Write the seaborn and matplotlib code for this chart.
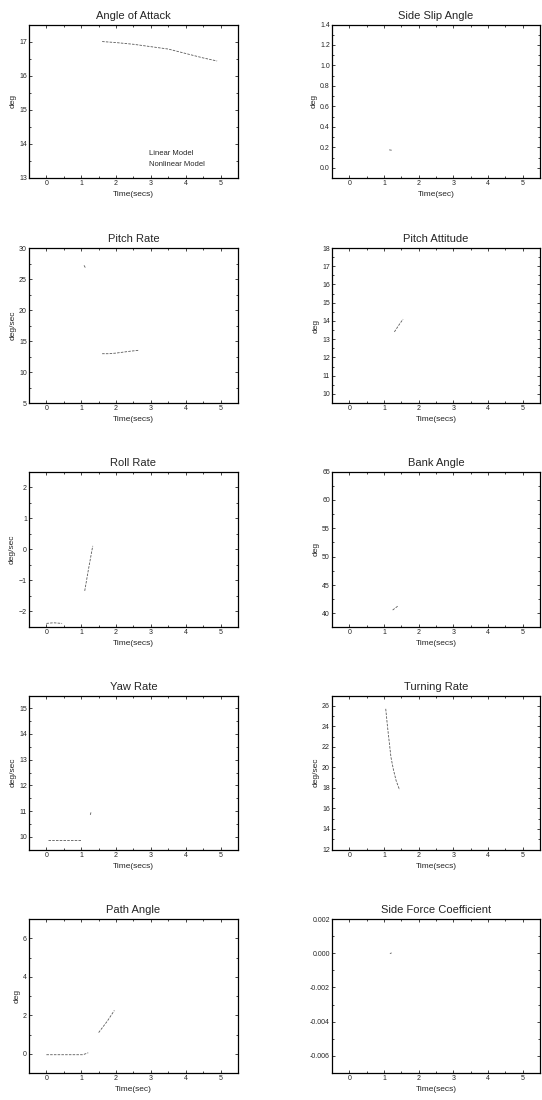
import numpy as np
import matplotlib
matplotlib.use("Agg")
import matplotlib.pyplot as plt
from matplotlib.lines import Line2D
from matplotlib.ticker import AutoMinorLocator, FormatStrFormatter
import seaborn as sns

# values (faint trace fragments)
aoa_t = [1.6, 2.0, 2.5, 3.0, 3.5, 4.0, 4.5, 4.9]
aoa_v = [17.0, 16.97, 16.92, 16.85, 16.78, 16.65, 16.52, 16.43]

slip_t = [1.15, 1.25]
slip_v = [0.175, 0.17]

q_t1 = [1.08, 1.12]
q_v1 = [27.2, 26.8]
q_t2 = [1.6, 1.8, 2.0, 2.2, 2.4, 2.65]
q_v2 = [12.95, 12.95, 13.05, 13.2, 13.35, 13.5]

theta_t = [1.3, 1.42, 1.55]
theta_v = [13.4, 13.75, 14.1]

p_t1 = [0.0, 0.2, 0.45]
p_v1 = [-2.4, -2.38, -2.4]
p_t2 = [1.1, 1.2, 1.33]
p_v2 = [-1.35, -0.7, 0.1]

phi_t = [1.25, 1.4]
phi_v = [40.6, 41.3]

r_t1 = [0.05, 0.5, 1.0]
r_v1 = [9.87, 9.87, 9.87]
r_t2 = [1.26, 1.28]
r_v2 = [10.85, 10.95]

turn_t = [1.05, 1.1, 1.15, 1.2, 1.27, 1.35, 1.45]
turn_v = [25.7, 24.0, 22.5, 21.0, 19.8, 18.7, 17.8]

gam_t1 = [0.0, 0.5, 1.05, 1.2]
gam_v1 = [-0.05, -0.05, -0.05, 0.05]
gam_t2 = [1.5, 1.75, 1.95]
gam_v2 = [1.1, 1.7, 2.25]

cy_t = [1.17, 1.22]
cy_v = [-0.00002, 0.00002]

titles = ["Angle of Attack", "Side Slip Angle", "Pitch Rate", "Pitch Attitude",
          "Roll Rate", "Bank Angle", "Yaw Rate", "Turning Rate",
          "Path Angle", "Side Force Coefficient"]
ylabels = ["deg", "deg", "deg/sec", "deg", "deg/sec", "deg", "deg/sec", "deg/sec", "deg", ""]
xlabels = ["Time(secs)", "Time(sec)", "Time(secs)", "Time(secs)", "Time(secs)",
           "Time(secs)", "Time(secs)", "Time(secs)", "Time(sec)", "Time(secs)"]
ylims = [(13, 17.5), (-0.1, 1.4), (5, 30), (9.5, 18), (-2.5, 2.5),
         (37.7, 65), (9.5, 15.5), (12, 27), (-1, 7), (-0.007, 0.002)]
yticks = [[13, 14, 15, 16, 17], [0, 0.2, 0.4, 0.6, 0.8, 1.0, 1.2, 1.4],
          [5, 10, 15, 20, 25, 30], list(range(10, 19)), [-2, -1, 0, 1, 2],
          [40, 45, 50, 55, 60, 65], [10, 11, 12, 13, 14, 15],
          [12, 14, 16, 18, 20, 22, 24, 26], [0, 2, 4, 6],
          [-0.006, -0.004, -0.002, 0.0, 0.002]]
segments = [
    [(aoa_t, aoa_v)],
    [(slip_t, slip_v)],
    [(q_t1, q_v1), (q_t2, q_v2)],
    [(theta_t, theta_v)],
    [(p_t1, p_v1), (p_t2, p_v2)],
    [(phi_t, phi_v)],
    [(r_t1, r_v1), (r_t2, r_v2)],
    [(turn_t, turn_v)],
    [(gam_t1, gam_v1), (gam_t2, gam_v2)],
    [(cy_t, cy_v)],
]

sns.set_style("ticks")
plt.rcParams['font.family'] = ['Liberation Sans', 'DejaVu Sans']

W, H = 542, 1100
fig = plt.figure(figsize=(W / 100, H / 100), dpi=100)

col_x = [(29, 238), (332, 540)]
row_y = [(24.5, 178), (248, 403), (471.5, 626.5), (695.5, 849.5), (919, 1073)]

for i in range(10):
    r, c = divmod(i, 2)
    x0, x1 = col_x[c]
    y0, y1 = row_y[r]
    ax = fig.add_axes([x0 / W, 1 - y1 / H, (x1 - x0) / W, (y1 - y0) / H])
    for t, v in segments[i]:
        sns.lineplot(x=t, y=v, ax=ax, color="0.35", lw=0.6, linestyle=(0, (3, 1.5)),
                     sort=False, estimator=None)
    ax.set_xlim(-0.5, 5.5)
    ax.set_ylim(*ylims[i])
    ax.set_xticks([0, 1, 2, 3, 4, 5])
    ax.set_yticks(yticks[i])
    if i == 1:
        ax.yaxis.set_major_formatter(FormatStrFormatter("%.1f"))
    if i == 9:
        ax.yaxis.set_major_formatter(FormatStrFormatter("%.3f"))
    ax.xaxis.set_minor_locator(AutoMinorLocator(2))
    ax.yaxis.set_minor_locator(AutoMinorLocator(2))
    ax.tick_params(which="both", direction="in", top=True, right=True,
                   labelsize=5, width=0.6, pad=1.5)
    ax.tick_params(which="major", length=2.5)
    ax.tick_params(which="minor", length=1.5)
    for s in ax.spines.values():
        s.set_linewidth(0.9)
        s.set_color("black")
    ax.set_title(titles[i], fontsize=8, pad=4, fontweight="medium")
    ax.set_xlabel(xlabels[i], fontsize=6, labelpad=3)
    ax.set_ylabel(ylabels[i], fontsize=6, labelpad=2)
    if i == 0:
        handles = [Line2D([], [], color="none"), Line2D([], [], color="none")]
        ax.legend(handles, ["Linear Model", "Nonlinear Model"], frameon=False,
                  handlelength=0, handletextpad=0, fontsize=5.5,
                  loc="lower left", bbox_to_anchor=(0.54, 0.02), labelspacing=0.5)

fig.savefig("out.png", dpi=100)
